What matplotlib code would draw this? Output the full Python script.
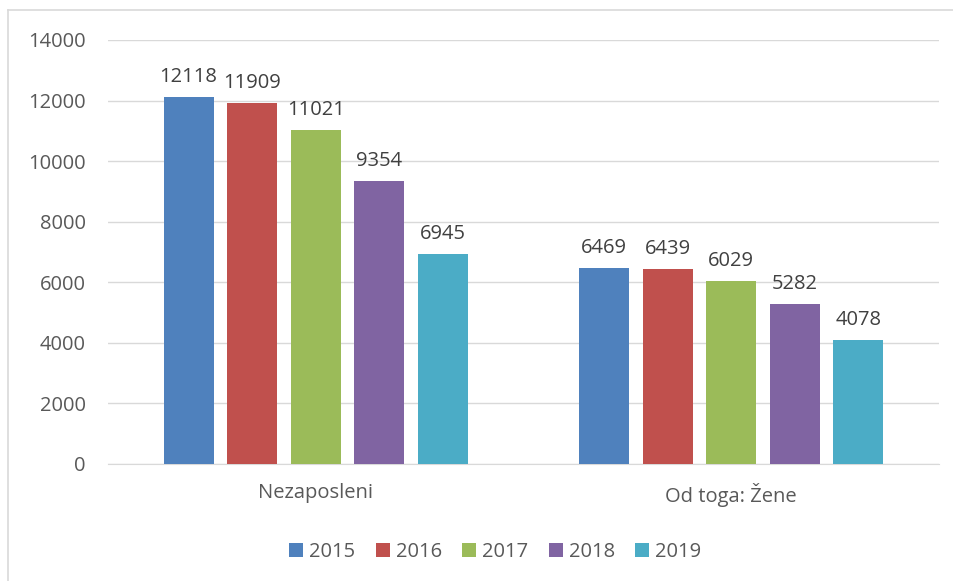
import matplotlib
matplotlib.use("Agg")
import matplotlib.pyplot as plt
import numpy as np
from matplotlib.lines import Line2D

# data
categories = ["Nezaposleni", "Od toga: Žene"]
years = ["2015", "2016", "2017", "2018", "2019"]
values = {
    "2015": [12118, 6469],
    "2016": [11909, 6439],
    "2017": [11021, 6029],
    "2018": [9354, 5282],
    "2019": [6945, 4078],
}
colors = ["#4F81BD", "#C0504D", "#9BBB59", "#8064A2", "#4BACC6"]
yticks = [0, 2000, 4000, 6000, 8000, 10000, 12000, 14000]

plt.rcParams['font.family'] = ['Open Sans', 'DejaVu Sans']
fig = plt.figure(figsize=(9.54, 5.81), dpi=100)
ax = fig.add_axes([0.1132, 0.2014, 0.8711, 0.7298])

x = np.arange(len(categories))
width, step = 0.12, 0.153
for i, (yr, c) in enumerate(zip(years, colors)):
    pos = x + (i - 2) * step
    bars = ax.bar(pos, values[yr], width, color=c, label=yr, zorder=3)
    for b, v in zip(bars, values[yr]):
        ax.text(b.get_x() + b.get_width() / 2, v + 330, str(v), ha='center', va='bottom',
                fontsize=14.5, color='#404040')

ax.set_xlim(-0.5, 1.5)
ax.set_ylim(0, 14000)
ax.set_yticks(yticks)
ax.set_xticks(x)
ax.set_xticklabels(categories)
ax.tick_params(axis='both', length=0, labelsize=14.5, colors='#595959')
ax.tick_params(axis='y', pad=16)
ax.tick_params(axis='x', pad=14)
ax.grid(axis='y', color='#D9D9D9', linewidth=1, zorder=0)
for s in ['top', 'right', 'left']:
    ax.spines[s].set_visible(False)
ax.spines['bottom'].set_color('#D9D9D9')

ax.legend(loc='lower center', bbox_to_anchor=(0.466, -0.275), ncol=5, frameon=False,
          handlelength=0.7, handleheight=0.7, handletextpad=0.3, columnspacing=1.0,
          fontsize=14.5, labelcolor='#595959')

# chart border (top and left visible)
fig.add_artist(Line2D([8/954, 8/954], [0, 1 - 10/581], color='#D9D9D9', lw=1.2, transform=fig.transFigure))
fig.add_artist(Line2D([8/954, 1], [1 - 10/581, 1 - 10/581], color='#D9D9D9', lw=1.2, transform=fig.transFigure))

fig.savefig("out.png", dpi=100)
